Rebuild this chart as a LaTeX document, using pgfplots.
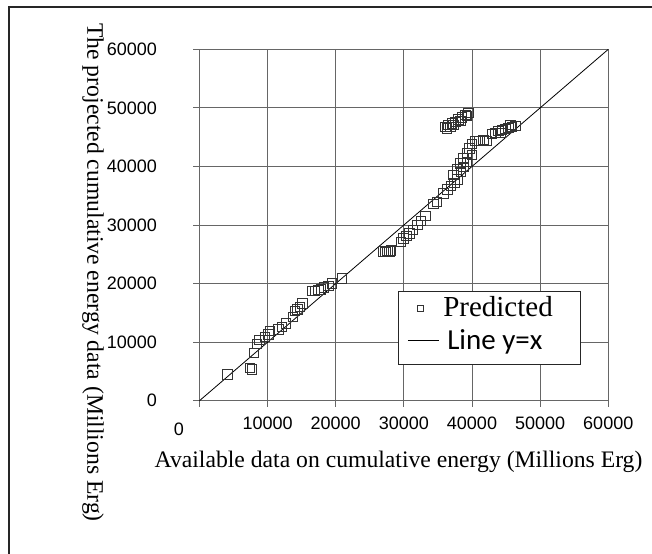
\documentclass[border=0pt]{standalone}
\usepackage{pgfplots}
\pgfplotsset{compat=1.18}
\usepackage{fontspec}
\setmainfont{Liberation Serif}
\newfontfamily\arialf{Liberation Sans}
\newfontfamily\calibrif{Carlito}
\pgfplotstableread{
x y
4080 4500
7420 5630
7670 5360
8000 8200
8400 9680
8790 10360
9620 10930
10110 11330
10360 11950
11580 12190
12070 12630
12710 13210
13690 14340
14030 15360
14370 15600
14760 16050
15100 16630
16480 18780
16970 18780
17450 18900
17800 19020
18290 19360
18920 19580
19420 20040
20890 20890
27000 25500
27300 25400
27600 25600
27900 25500
28100 25700
29560 27140
29940 27720
30340 28110
30820 28570
31320 29140
32000 29990
32500 30730
33130 31530
34350 33580
34850 33970
35820 35400
36400 36090
36900 36650
37390 37220
37870 37790
38370 39090
38750 39940
39250 40800
39990 41940
37280 38530
37780 39500
38270 40520
38750 41380
39250 42230
39630 43080
39990 43820
40470 44330
41110 44330
41700 44500
42190 44330
42920 45530
43410 45750
43890 46040
44390 46210
44880 46380
45360 46600
45860 46770
46350 46890
45610 47060
44140 45750
36060 46770
36550 47060
37050 47350
37530 47630
38020 48040
38520 48380
39000 48770
39490 49160
36310 46500
37280 47060
38270 47800
39250 48600
36800 46770
}\predicted
\begin{document}
\begin{tikzpicture}
\useasboundingbox (0,0) rectangle (489pt,414.75pt);
\draw[black!85, line width=1pt] (6.75pt,-2pt) -- (6.75pt,409.5pt) -- (492pt,409.5pt);
\begin{axis}[
  at={(149.6pt,114.2pt)}, anchor=south west,
  scale only axis, width=306.6pt, height=263.55pt,
  xmin=0, xmax=60000, ymin=0, ymax=60000,
  xtick={0,10000,...,60000}, ytick={0,10000,...,60000},
  xticklabels={,10000,20000,30000,40000,50000,60000},
  scaled ticks=false,
  /pgf/number format/1000 sep={},
  /pgf/number format/assume math mode=true,
  tick align=outside, xtick pos=bottom, ytick pos=left,
  major tick length=4.5pt,
  tick style={black!60, line width=0.75pt},
  grid=major,
  major grid style={black!60, line width=0.75pt},
  axis line style={black!60, line width=0.75pt},
  ticklabel style={font=\arialf\fontsize{13.5pt}{13.5pt}\selectfont, inner sep=0pt},
  xticklabel style={anchor=north, yshift=-7.6pt},
  yticklabel style={anchor=east, xshift=-27.2pt},
  legend cell align=left,
  legend style={at={(0.4856,0.3122)}, anchor=north west, draw=black!85, line width=0.75pt, fill=white,
    inner xsep=6.75pt, inner ysep=2.25pt, row sep=0pt, column sep=3pt,
    font=\fontsize{21.75pt}{21.75pt}\selectfont,
    nodes={inner sep=0pt, text height=16.3pt, text depth=8.7pt}},
  clip=false,
]
\addplot[only marks, mark=square, mark size=3.56pt, mark options={black!80, line width=0.6pt},
  legend image code/.code={\path[draw=none] (0pt,0pt) -- (23.25pt,0pt);
    \draw[black!80, line width=0.6pt] (7.5pt,-0.0pt) rectangle (12pt,4.5pt);}]
  table[x=x, y=y] {\predicted};
\addlegendentry{\makebox[96pt][l]{Predicted}}
\addplot[black, line width=0.6pt, legend image code/.code={\draw[black, line width=0.6pt] (0pt,3pt) -- (23.25pt,3pt);}]
  coordinates {(0,0) (60000,60000)};
\addlegendentry{\makebox[96pt][l]{\hspace{3pt}\calibrif Line y=x}}
\node[font=\arialf\fontsize{13.5pt}{13.5pt}\selectfont, inner sep=0pt] at ([xshift=-15.4pt, yshift=-21.2pt]axis cs:0,0) {0};
\end{axis}
\node[font=\fontsize{17.75pt}{17.75pt}\selectfont, anchor=base] at (298.9pt,64.5pt) {Available data on cumulative energy (Millions Erg)};
\node[font=\fontsize{17.75pt}{17.75pt}\selectfont, rotate=-90] at (69.75pt,210.4pt) {The projected cumulative energy data (Millions Erg)};
\end{tikzpicture}
\end{document}
